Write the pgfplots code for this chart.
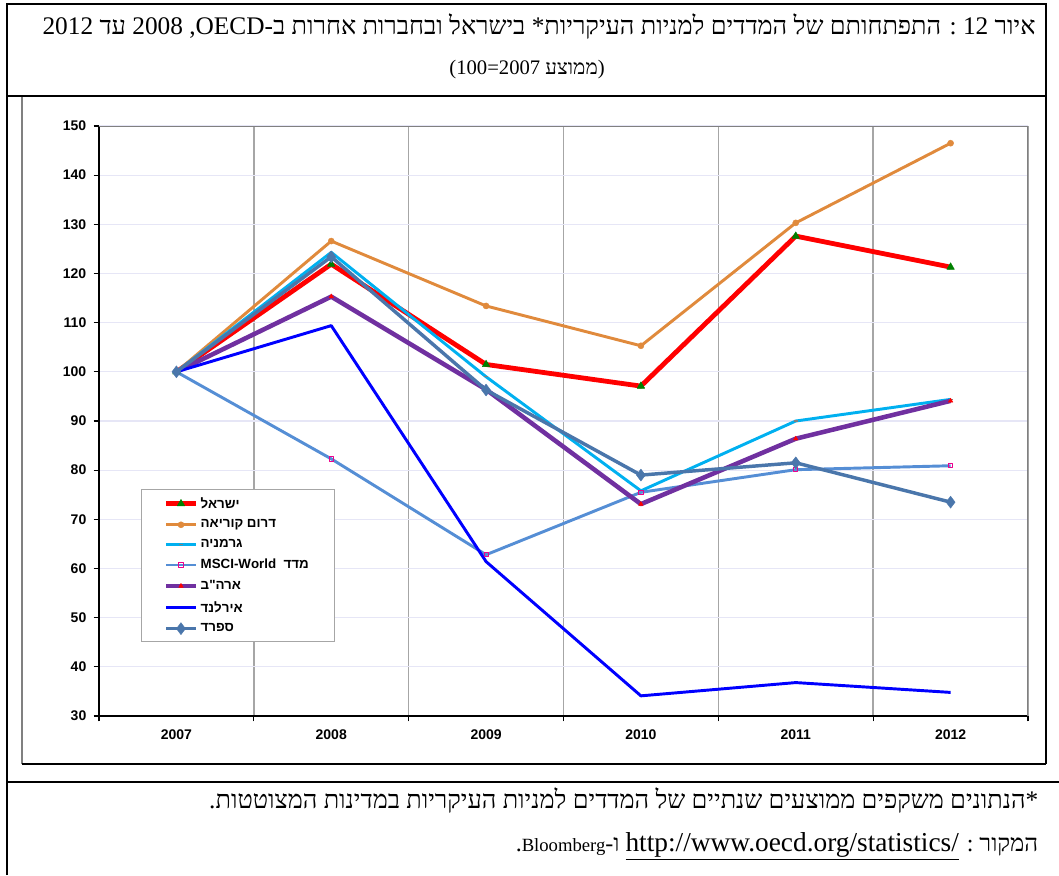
\documentclass[border=0pt]{standalone}
\usepackage{fontspec}
\setmainfont{Liberation Sans}
\newfontfamily\hebsans[Script=Hebrew]{Liberation Sans}
\newfontfamily\hebserif[Script=Hebrew]{Liberation Serif}
\newfontfamily\latserif{Liberation Serif}
\usepackage{pgfplots}
\pgfplotsset{compat=1.18}
\usepackage{pgfplotstable}
\TeXXeTstate=1

\definecolor{isr}{HTML}{FF0000}
\definecolor{isrmk}{HTML}{008000}
\definecolor{kor}{HTML}{E08A3C}
\definecolor{ger}{HTML}{00B0F0}
\definecolor{msci}{HTML}{558ED5}
\definecolor{usa}{HTML}{7030A0}
\definecolor{irl}{HTML}{0000FF}
\definecolor{esp}{HTML}{4A76AB}
\definecolor{lav}{HTML}{E6E6F6}
\definecolor{vgrid}{HTML}{A6A6A6}

% index 2007=100; x: 0=2007 ... 5=2012
\pgfplotstableread{
x   isr    kor    ger    msci   usa    irl    esp
0   100    100    100    100    100    100    100
1   121.9  126.6  124.3  82.3   115.3  109.4  123.4
2   101.5  113.4  99.0   62.8   96.4   61.4   96.3
3   97.1   105.3  75.8   75.5   73.1   34.1   79.0
4   127.6  130.3  90.0   80.1   86.4   36.8   81.5
5   121.3  146.5  94.4   80.9   94.1   34.8   73.5
}\idx

\begin{document}
\begin{tikzpicture}
\begin{scope}[x=0.75pt,y=-0.75pt]
\useasboundingbox (0,0) rectangle (1059,875);
% table frame
\draw[line width=1.5pt] (7,875) -- (7,4) -- (1046,4) -- (1046,764);
\draw[line width=1.5pt] (7,96) -- (1046,96);
\draw[line width=1.5pt] (7,782) -- (1059,782);
\draw[gray, line width=0.8pt] (22,97) -- (22,764);
\draw[line width=1pt] (22,764) -- (1046,764);
% title
\node[font=\hebserif\fontsize{19}{22}\selectfont] at (539,27)
  {\beginR איור 12 : התפתחותם של המדדים למניות העיקריות* בישראל ובחברות אחרות ב-OECD, 2008 עד 2012\endR};
\node[font=\hebserif\fontsize{15.5}{18}\selectfont] at (527,70)
  {\beginR (ממוצע 2007=100)\endR};
% footer
\node[anchor=east, font=\hebserif\fontsize{19}{22}\selectfont] at (1043,800)
  {\beginR *הנתונים משקפים ממוצעים שנתיים של המדדים למניות העיקריות במדינות המצוטטות.\endR};
\node[anchor=east, font=\hebserif\fontsize{18}{22}\selectfont] at (1043,846)
  {\beginR המקור : \beginL{\latserif\fontsize{20.5}{24}\selectfont\underline{http://www.oecd.org/statistics/}}\endL{} ו-{\latserif\fontsize{14}{16}\selectfont Bloomberg}.\endR};
\end{scope}

\begin{axis}[
  at={(74.25pt,-537pt)}, anchor=south west,
  scale only axis, width=696.75pt, height=442.5pt,
  xmin=-0.5, xmax=5.5, ymin=30, ymax=150,
  xtick={0,...,5}, xticklabels={2007,2008,2009,2010,2011,2012},
  minor xtick={-0.5,0.5,1.5,2.5,3.5,4.5,5.5},
  ytick={30,40,...,150},
  axis lines*=left,
  x axis line style={-, line width=2.2pt},
  y axis line style={-, line width=1pt},
  xminorgrids, ymajorgrids,
  minor grid style={vgrid, line width=1.1pt},
  major grid style={lav, line width=0.8pt},
  tick align=outside,
  major tick length=4pt, minor tick length=4pt,
  major x tick style={draw=none},
  tick style={black, line width=0.8pt},
  /pgf/number format/assume math mode=true,
  yticklabel style={font=\bfseries\fontsize{10.5}{12}\selectfont, xshift=-2pt},
  xticklabel style={font=\bfseries\fontsize{10.5}{12}\selectfont, yshift=-3pt},
  legend style={at={(0.0452,0.3847)}, anchor=north west, draw=gray!70, fill=white,
    font=\hebsans\bfseries\fontsize{10}{11.5}\selectfont,
    row sep=3.2pt, inner xsep=17pt, inner ysep=4pt},
  legend cell align=left,
  legend image code/.code={\draw[#1, mark repeat=2, mark phase=2] plot coordinates {(0pt,0pt) (11pt,0pt) (22pt,0pt)};},
  every axis plot/.append style={line join=round},
]
\draw[gray, line width=1pt] (rel axis cs:0,1) -- (rel axis cs:1,1) -- (rel axis cs:1,0);
\addplot[isr, line width=3.6pt, mark=triangle*, mark size=3.3pt,
  mark options={fill=isrmk, draw=isrmk, line width=0.3pt}] table[x=x,y=isr]{\idx};
\addlegendentry{\beginR ישראל\endR}
\addplot[kor, line width=2.2pt, mark=*, mark size=2.3pt,
  mark options={fill=kor, draw=kor, line width=0.3pt}] table[x=x,y=kor]{\idx};
\addlegendentry{\beginR דרום קוריאה\endR}
\addplot[ger, line width=2.2pt, mark=-, mark size=1.5pt,
  mark options={draw=gray, line width=0.8pt}] table[x=x,y=ger]{\idx};
\addlegendentry{\beginR גרמניה\endR}
\addplot[msci, line width=2.2pt, mark=square, mark size=1.6pt,
  mark options={draw=magenta, fill=white, line width=0.6pt}] table[x=x,y=msci]{\idx};
\addlegendentry{\beginR מדד\ \ \beginL MSCI-World\endL\endR}
\addplot[usa, line width=3.4pt, mark=triangle*, mark size=2pt,
  mark options={fill=red, draw=red, line width=0.3pt}] table[x=x,y=usa]{\idx};
\addlegendentry{\beginR ארה"ב\endR}
\addplot[irl, line width=2.2pt] table[x=x,y=irl]{\idx};
\addlegendentry{\beginR אירלנד\endR}
\addplot[esp, line width=2.6pt, mark=diamond*, mark size=4.5pt,
  mark options={fill=esp, draw=esp, line width=0.3pt}] table[x=x,y=esp]{\idx};
\addlegendentry{\beginR ספרד\endR}
\end{axis}
\end{tikzpicture}
\end{document}
